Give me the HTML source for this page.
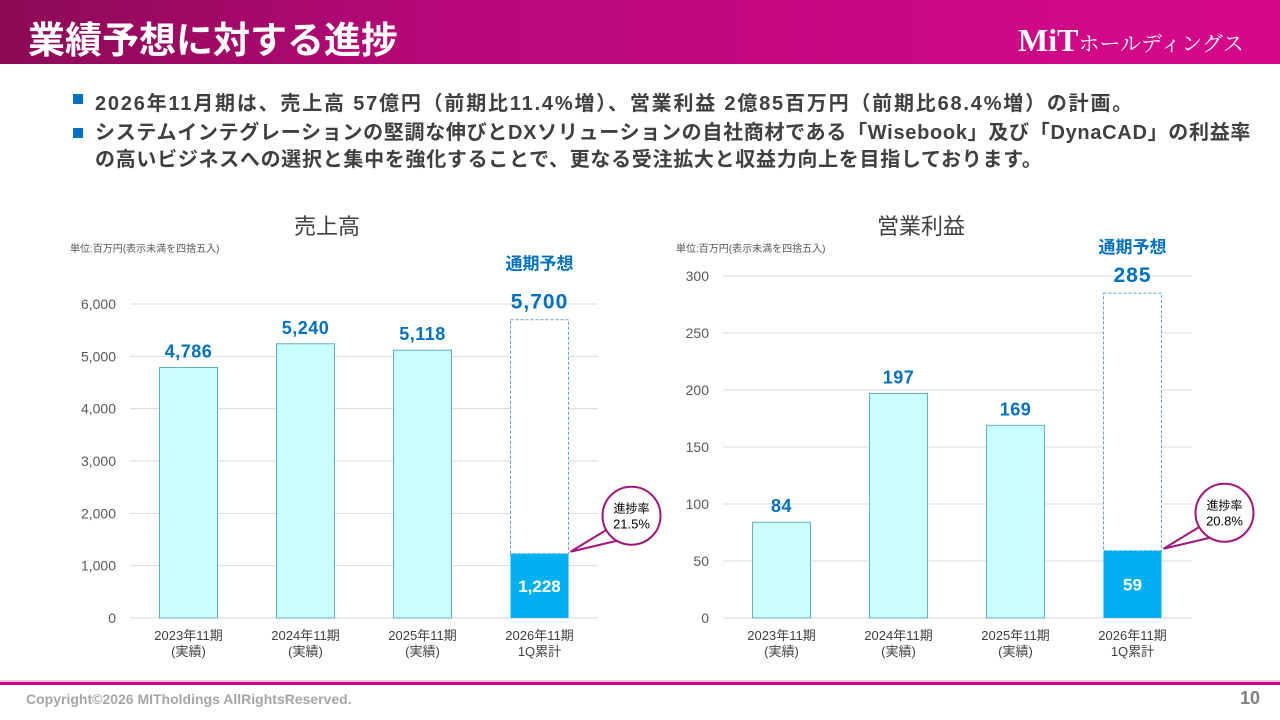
<!DOCTYPE html>
<html><head><meta charset="utf-8">
<style>
body{margin:0;width:1280px;height:720px;overflow:hidden;background:#fff;font-family:"Liberation Sans","Noto Sans CJK JP",sans-serif;position:relative}
.hdr{position:absolute;left:0;top:0;width:1280px;height:64px;background:linear-gradient(90deg,#8c0a55 0%,#b8087a 35%,#d6088a 100%)}
.ttl{position:absolute;left:28px;top:10px;color:#fff;font-size:37px;font-weight:bold;letter-spacing:0px}
.logo{position:absolute;left:1018px;top:22px;color:#fff;font-family:"Liberation Serif","Noto Serif CJK SC",serif;font-size:32px;font-weight:bold}
.logo span{font-size:21px;font-weight:normal}
.b{position:absolute;left:73px;width:10px;height:10px;background:#0070c0}
.t{position:absolute;left:95px;font-size:20px;font-weight:bold;color:#404040;white-space:nowrap;letter-spacing:0.7px}
.foot{position:absolute;left:0;top:682px;width:1280px;height:3px;background:#c4087e;box-shadow:0 -2px 0 #f0c0dc}
.copy{position:absolute;left:26px;top:691px;font-size:14px;font-weight:bold;color:#a6a6a6}
.pg{position:absolute;left:1240px;top:688px;font-size:18px;font-weight:bold;color:#7f7f7f}
</style></head><body>
<div class="hdr"></div>
<div class="ttl">業績予想に対する進捗</div>
<div class="logo">MiT<span>ホールディングス</span></div>
<div class="b" style="top:94px"></div>
<div class="t" style="top:87px;letter-spacing:1.8px">2026年11月期は、売上高 57億円（前期比11.4%増）、営業利益 2億85百万円（前期比68.4%増）の計画。</div>
<div class="b" style="top:128px"></div>
<div class="t" style="top:120px;line-height:27px">システムインテグレーションの堅調な伸びとDXソリューションの自社商材である「Wisebook」及び「DynaCAD」の利益率<br>の高いビジネスへの選択と集中を強化することで、更なる受注拡大と収益力向上を目指しております。</div>

<svg id="c" width="1280" height="720" style="position:absolute;left:0;top:0"></svg>

<div class="foot"></div>
<div class="copy">Copyright©2026 MITholdings AllRightsReserved.</div>
<div class="pg">10</div>

<script>
const categories=["2023年11期|(実績)","2024年11期|(実績)","2025年11期|(実績)","2026年11期|1Q累計"];
const salesActual=[4786,5240,5118,1228];
const salesForecast=5700;
const salesTicks=[0,1000,2000,3000,4000,5000,6000];
const salesProgress="21.5%";
const opActual=[84,197,169,59];
const opForecast=285;
const opTicks=[0,50,100,150,200,250,300];
const opProgress="20.8%";

const svg=document.getElementById('c');
const NS="http://www.w3.org/2000/svg";
function el(tag,attrs,text){const e=document.createElementNS(NS,tag);for(const k in attrs)e.setAttribute(k,attrs[k]);if(text!==undefined)e.textContent=text;svg.appendChild(e);return e;}
const F='"Liberation Sans","Noto Sans CJK JP",sans-serif';

function chart(o){
  const y=v=>o.y0-(v/o.max)*(o.y0-o.yTop);
  const x=i=>o.x0+o.step*(i+0.5);
  let t=el('text',{x:o.cx,y:234,'font-size':22,fill:'#404040','text-anchor':'middle','font-family':F},o.title);
  
  
  t=el('text',{x:o.ux,y:252,'font-size':10,fill:'#595959','font-family':F},'単位:百万円(表示未満を四捨五入)');
  
  
  o.ticks.forEach(v=>{
    const g=el('line',{x1:o.x0,x2:o.x1,y1:y(v),y2:y(v),stroke:'#d9d9d9','stroke-width':1});
    
    
    const tl=el('text',{x:o.x0-14,y:y(v)+5,'font-size':14,fill:'#595959','text-anchor':'end','font-family':F},v.toLocaleString('en-US'));
    
    
  });
  const bw=58;
  o.vals.forEach((v,i)=>{
    const cx=x(i);
    if(i===3){
      const f=el('rect',{x:cx-bw/2,y:y(o.fc),width:bw,height:y(v)-y(o.fc),fill:'#fff',stroke:'#5ba3d0','stroke-width':1,'stroke-dasharray':'3,2'});
      
      
      const b=el('rect',{x:cx-bw/2,y:y(v),width:bw,height:o.y0-y(v),fill:'#00b0f0'});
      
      
      const l=el('text',{x:cx,y:(y(v)+o.y0)/2+6,'font-size':17,'font-weight':'bold',fill:'#fff','text-anchor':'middle','font-family':F},v.toLocaleString('en-US'));
      
      
      const fl=el('text',{x:cx,y:y(o.fc)-11,'font-size':21,'font-weight':'bold',fill:'#0070c0','text-anchor':'middle','font-family':F,'letter-spacing':1},o.fc.toLocaleString('en-US'));
      
      
      const ft=el('text',{x:cx,y:y(o.fc)-o.fcOff,'font-size':17,'font-weight':'bold',fill:'#0070c0','text-anchor':'middle','font-family':F},'通期予想');
      
      
      const ccx=cx+92, ccy=y(v)-38, r=29;
      const p=el('path',{d:`M${ccx-r*0.8},${ccy+r*0.45} L${cx+bw/2+2},${y(v)-2} L${ccx-r*0.45},${ccy+r*0.85}`,fill:'#fff',stroke:'#a0167c','stroke-width':2});
      
      
      const c=el('circle',{cx:ccx,cy:ccy,r:r,fill:'#fff',stroke:'#a0167c','stroke-width':2});
      
      
      const c1=el('text',{x:ccx,y:ccy-3,'font-size':12,fill:'#000','text-anchor':'middle','font-family':F},'進捗率');
      
      
      const c2=el('text',{x:ccx,y:ccy+13,'font-size':13,fill:'#000','text-anchor':'middle','font-family':F},o.prog);
      
      
    } else {
      const b=el('rect',{x:cx-bw/2,y:y(v),width:bw,height:o.y0-y(v),fill:'#ccffff',stroke:'#5fb0c0','stroke-width':1});
      
      
      const l=el('text',{x:cx,y:y(v)-10,'font-size':18,'font-weight':'bold',fill:'#0070c0','text-anchor':'middle','font-family':F,'letter-spacing':0.5},v.toLocaleString('en-US'));
      
      
    }
    const parts=categories[i].split('|');
    parts.forEach((s,j)=>{
      const cl=el('text',{x:cx,y:o.y0+22+j*16,'font-size':13,fill:'#404040','text-anchor':'middle','font-family':F},s);
      
      
    });
  });
}
chart({key:'sales',title:'売上高',cx:327,ux:70,x0:130,x1:598,step:117,y0:618,yTop:304,max:6000,ticks:salesTicks,vals:salesActual,fc:salesForecast,prog:salesProgress,fcOff:50});
chart({key:'op',title:'営業利益',cx:921,ux:676,x0:723,x1:1192,step:117,y0:618,yTop:276,max:300,ticks:opTicks,vals:opActual,fc:opForecast,prog:opProgress,fcOff:40});
</script>
</body></html>
